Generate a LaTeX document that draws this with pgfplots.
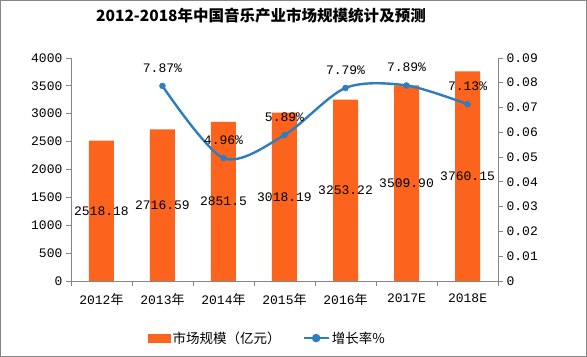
\documentclass[border=0pt]{standalone}
\usepackage{pgfplots}
\pgfplotsset{compat=1.18}
\usepackage{fontspec}
\setmainfont{Liberation Mono}
\newfontfamily\cjk{Noto Sans CJK SC}
\DeclareRobustCommand\nian{{\cjk 年}}
\definecolor{barc}{RGB}{252,99,28}
\definecolor{linec}{RGB}{46,125,190}
\definecolor{axc}{RGB}{134,134,134}
\begin{document}
\begin{tikzpicture}
\draw[axc, line width=0.8pt] (0.5pt,0.5pt) rectangle (586.5pt,356.5pt);
\node[font=\cjk\bfseries\fontsize{15.5}{18}\selectfont, inner sep=0pt] at (261pt,341pt) {2012-2018年中国音乐产业市场规模统计及预测};
\begin{axis}[
  at={(71pt,76pt)}, anchor=south west, scale only axis,
  width=427pt, height=223pt,
  xmin=-0.5, xmax=6.5, ymin=0, ymax=4000,
  axis x line*=bottom, axis y line*=left,
  axis line style={-, axc, line width=0.8pt},
  xtick={-0.5,0.5,1.5,2.5,3.5,4.5,5.5,6.5},
  x tick label as interval,
  xticklabels={{2012\nian},{2013\nian},{2014\nian},{2015\nian},{2016\nian},2017E,2018E},
  ytick={0,500,1000,1500,2000,2500,3000,3500,4000},
  yticklabels={0,500,1000,1500,2000,2500,3000,3500,4000},
  scaled y ticks=false,
  tick align=outside, major tick length=5pt,
  tick style={axc, line width=0.8pt},
  tick label style={font=\fontsize{13}{15}\selectfont, text=black},
  xticklabel style={yshift=-4pt},
  /pgf/number format/assume math mode=true,
]
\addplot[ybar, bar width=25pt, fill=barc, draw=none,
  point meta=explicit symbolic, nodes near coords,
  visualization depends on={y \as \rawy},
  every node near coord/.append style={anchor=center, shift={(axis direction cs:0,-\rawy/2)}, font=\fontsize{13}{15}\selectfont, text=black}]
coordinates {(0,2518.18)[2518.18] (1,2716.59)[2716.59] (2,2851.5)[2851.5] (3,3018.19)[3018.19] (4,3253.22)[3253.22] (5,3509.90)[3509.90] (6,3760.15)[3760.15]};
\end{axis}
\begin{axis}[
  at={(71pt,76pt)}, anchor=south west, scale only axis,
  width=427pt, height=223pt,
  xmin=-0.5, xmax=6.5, ymin=0, ymax=0.09,
  axis x line=none, axis y line*=right,
  axis line style={-, axc, line width=0.8pt},
  ytick={0,0.01,0.02,0.03,0.04,0.05,0.06,0.07,0.08,0.09},
  yticklabels={0,0.01,0.02,0.03,0.04,0.05,0.06,0.07,0.08,0.09},
  scaled y ticks=false,
  tick align=outside, major tick length=5pt,
  tick style={axc, line width=0.8pt},
  tick label style={font=\fontsize{13}{15}\selectfont, text=black},
  legend style={at={(0.46,-0.256)}, anchor=center, draw=none, fill=none,
    legend columns=2, font=\cjk\fontsize{13.5}{15}\selectfont,
    /tikz/every even column/.append style={column sep=20pt}},
]
\addlegendimage{legend image code/.code={\fill[barc] (0pt,-4pt) rectangle (22pt,4pt);}}
\addlegendentry{市场规模（亿元）}
\addplot[linec, line width=2.4pt, smooth, mark=*, mark size=3pt,
  mark options={line width=0.4pt, fill=linec},
  point meta=explicit symbolic, nodes near coords,
  every node near coord/.append style={anchor=center, yshift=18pt, font=\fontsize{13}{15}\selectfont, text=black},
  legend image code/.code={\draw[linec, line width=2.2pt] (0pt,0pt) -- (25pt,0pt); \fill[linec] (12.5pt,0pt) circle (3pt);}]
coordinates {(1,0.0787)[7.87\%] (2,0.0496)[4.96\%] (3,0.0589)[5.89\%] (4,0.0779)[7.79\%] (5,0.0789)[7.89\%] (6,0.0713)[7.13\%]};
\addlegendentry{增长率\%}
\end{axis}
\end{tikzpicture}
\end{document}
